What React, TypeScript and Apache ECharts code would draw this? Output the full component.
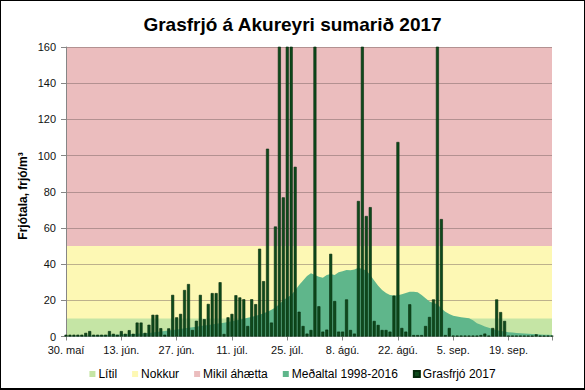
import React, { useEffect, useRef } from 'react';
import * as echarts from 'echarts';

// Days are counted from 30 May 2017 (index 0) to 30 Sep 2017 (index 123)
const tickLabels = ['30. maí', '13. jún.', '27. jún.', '11. júl.', '25. júl.', '8. ágú.', '22. ágú.', '5. sep.', '19. sep.'];

const pollen2017 = [
  1, 1, 1, 1, 1, 2, 3, 1, 1, 1,
  1, 3, 1.5, 1, 3, 1.5, 3.5, 1.5, 7.7, 7.7,
  2, 6.5, 12, 12, 4.6, 1, 4.5, 23, 10.6, 12.5,
  25.7, 29, 3.6, 8.7, 23, 9.6, 18, 24, 24, 30,
  1.4, 10.6, 12.5, 22.8, 21.6, 20.6, 5.8, 20.6, 17.9, 48.5,
  30.6, 103.8, 7.7, 60.8, 185, 76.9, 240, 210, 93.8, 13.7,
  5.8, 1.6, 3.6, 230, 16.7, 2.7, 3.8, 45.7, 19.6, 2.7,
  2.7, 20.5, 3.6, 1.6, 74.9, 175, 66.6, 71.5, 8.6, 6.4,
  3.6, 3.6, 2.7, 22.6, 107.5, 4.7, 2.7, 17.8, 0.8, 0.8,
  0.8, 5.8, 10.8, 20.5, 195, 64.9, 0.8, 4.7, 0.5, 0.5,
  0.5, 0.5, 0.5, 0.5, 0.5, 0.8, 1.6, 0.5, 4.7, 20.5,
  13.5, 8.6, 0.5, 0.5, 0.5, 0.5, 0.5, 0.5, 0.5, 1.2,
  0.5, 0.5, 0.5, 0.5,
];

const average = [
  0.3, 0.3, 0.4, 0.4, 0.5, 0.5, 0.6, 0.6, 0.7, 0.7,
  0.8, 0.9, 1.0, 1.0, 1.1, 1.2, 1.3, 1.4, 1.5, 1.6,
  1.8, 2.0, 2.2, 2.5, 2.8, 3.0, 3.3, 3.6, 3.9, 4.2,
  4.5, 4.8, 5.1, 5.4, 5.8, 6.1, 6.4, 6.7, 7.0, 7.3,
  7.6, 8.0, 8.4, 8.8, 9.3, 9.8, 10.3, 10.8, 11.4, 12.0,
  12.8, 13.7, 14.8, 16.0, 18.0, 20.0, 21.5, 23.0, 25.5, 28.5,
  31.0, 33.5, 35.0, 34.0, 33.0, 32.5, 34.0, 34.5, 34.0, 35.5,
  36.0, 36.8, 36.6, 37.0, 38.0, 37.3, 36.5, 34.0, 31.0, 28.0,
  25.7, 24.0, 23.0, 22.6, 22.8, 23.3, 24.0, 24.8, 24.8, 24.4,
  23.0, 21.1, 19.3, 18.5, 17.8, 15.5, 13.7, 12.5, 11.5, 11.0,
  10.6, 10.3, 10.1, 9.0, 7.3, 6.5, 5.5, 4.9, 4.2, 3.5,
  3.0, 2.7, 2.4, 2.2, 2.0, 1.8, 1.6, 1.5, 1.4, 1.2,
  1.1, 1.0, 0.9, 0.8,
];

// Risk bands (upper limits)
const bandNames = ['Lítil', 'Nokkur', 'Mikil áhætta'];
const bandTops = [10, 50, 160];
const averageName = 'Meðaltal 1998-2016';
const pollenName = 'Grasfrjó 2017';

const bandColors = ['#c5e5a5', '#fdf8b4', '#ebbdbe'];
const FONT = '"Liberation Sans", Arial, sans-serif';

export default function App() {
  const ref = useRef<HTMLDivElement>(null);

  useEffect(() => {
    if (!ref.current) return;
    const chart = echarts.init(ref.current, undefined, { renderer: 'svg' });
    const lastDay = pollen2017.length - 1;

    const bandSeries = bandNames
      .map((name, i) => ({
        name,
        type: 'line',
        z: 0,
        symbol: 'none',
        silent: true,
        data: [[0, bandTops[i]], [lastDay, bandTops[i]]],
        lineStyle: { width: 0 },
        itemStyle: { color: bandColors[i] },
        areaStyle: { color: bandColors[i], opacity: 1 },
      }))
      .reverse();

    const option: any = {
      animation: false,
      backgroundColor: '#ffffff',
      textStyle: { fontFamily: FONT },
      title: {
        text: 'Grasfrjó á Akureyri sumarið 2017',
        left: 'center',
        top: 10,
        textStyle: { fontFamily: FONT, fontWeight: 'bold', fontSize: 19, color: '#000' },
      },
      grid: { left: 66, right: 33, top: 47, bottom: 53.5 },
      legend: {
        left: 'center',
        top: 363,
        icon: 'rect',
        itemWidth: 6,
        itemHeight: 6,
        itemGap: 15,
        textStyle: { fontFamily: FONT, fontSize: 12, color: '#000', padding: [0, 0, 0, -2] },
        data: [...bandNames, averageName, pollenName],
      },
      xAxis: {
        type: 'value',
        min: 0,
        max: lastDay,
        interval: 14,
        z: 1,
        splitLine: { show: false },
        axisLine: { show: true, lineStyle: { color: '#868686', width: 1 } },
        axisTick: { show: true, length: 4, lineStyle: { color: '#868686' } },
        axisLabel: {
          fontFamily: FONT,
          fontSize: 11,
          color: '#111',
          margin: 8,
          formatter: (v: number) => (v % 14 === 0 ? tickLabels[v / 14] ?? '' : ''),
        },
      },
      yAxis: {
        type: 'value',
        min: 0,
        max: 160,
        interval: 20,
        z: 1,
        splitLine: { show: true, lineStyle: { color: 'rgba(110,90,90,0.45)', width: 1 } },
        axisLine: { show: true, lineStyle: { color: '#868686', width: 1 } },
        axisTick: { show: true, length: 5, lineStyle: { color: '#868686' } },
        axisLabel: { fontFamily: FONT, fontSize: 11, color: '#111', margin: 10 },
      },
      graphic: [
        {
          type: 'text',
          x: 23,
          y: 196,
          rotation: Math.PI / 2,
          style: {
            text: 'Frjótala, frjó/m³',
            font: 'bold 12px "Liberation Sans", Arial, sans-serif',
            fill: '#000',
            align: 'center',
            verticalAlign: 'middle',
          },
        },
      ],
      series: [
        ...bandSeries,
        {
          name: averageName,
          type: 'line',
          z: 2,
          symbol: 'none',
          data: average.map((v, i) => [i, v]),
          lineStyle: { width: 0 },
          itemStyle: { color: '#5fb68b' },
          areaStyle: { color: '#5fb68b', opacity: 1 },
        },
        {
          name: pollenName,
          type: 'bar',
          z: 3,
          barWidth: 3,
          clip: true,
          data: pollen2017.map((v, i) => [i, v]),
          itemStyle: { color: '#0e4a1c', borderColor: '#052a0c', borderWidth: 0.6 },
        },
      ],
    };

    chart.setOption(option);
    return () => chart.dispose();
  }, []);

  return (
    <div style={{ position: 'absolute', left: 0, top: 0, width: 585, height: 390 }}>
      <div ref={ref} style={{ position: 'absolute', left: 0, top: 0, width: 585, height: 390 }} />
      <div
        style={{
          position: 'absolute',
          left: 0,
          top: 0,
          width: 585,
          height: 390,
          boxSizing: 'border-box',
          border: '1px solid #000',
          borderBottomWidth: 2,
          pointerEvents: 'none',
        }}
      />
    </div>
  );
}
